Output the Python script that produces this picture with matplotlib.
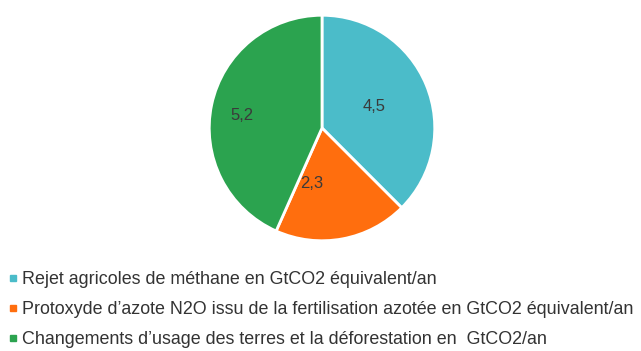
import matplotlib
matplotlib.use("Agg")
import matplotlib.pyplot as plt
from matplotlib.lines import Line2D
import numpy as np

plt.rcParams['font.family'] = ['Liberation Sans', 'DejaVu Sans']

# emissions agricoles (GtCO2/an)
categories = [
    "Rejet agricoles de méthane en GtCO2 équivalent/an",
    "Protoxyde d\u2019azote N2O issu de la fertilisation azotée en GtCO2 équivalent/an",
    "Changements d\u2019usage des terres et la déforestation en  GtCO2/an",
]
values = [4.5, 2.3, 5.2]
value_labels = ["4,5", "2,3", "5,2"]
colors = ["#4bbcc9", "#ff6e0e", "#2ba34f"]

# placement des etiquettes dans les parts (distance relative, decalage en degres)
label_dist = [0.5, 0.5, 0.72]
label_shift = [0, -21, 3]

W, H = 641, 351
fig = plt.figure(figsize=(W / 100, H / 100), dpi=100)

cx, cy, r = 322, 128, 115
ax = fig.add_axes([(cx - r) / W, (H - cy - r) / H, 2 * r / W, 2 * r / H])
wedges, _ = ax.pie(values, colors=colors, startangle=90, counterclock=False,
                   wedgeprops=dict(edgecolor="white", linewidth=2))
ax.set_xlim(-1.02, 1.02)
ax.set_ylim(-1.02, 1.02)
ax.set_aspect("equal")
ax.axis("off")

for w, lab, d, s in zip(wedges, value_labels, label_dist, label_shift):
    ang = np.deg2rad((w.theta1 + w.theta2) / 2 + s)
    ax.text(d * np.cos(ang), d * np.sin(ang), lab, ha="center", va="center",
            fontsize=12, color="#3a3a3a")

handles = [Line2D([], [], marker="s", linestyle="none", markersize=4,
                  markerfacecolor=c, markeredgecolor=c) for c in colors]
fig.legend(handles, categories, loc="upper left", bbox_to_anchor=(1 / W, 1 - 264 / H),
           frameon=False, fontsize=12.9, handlelength=0.5, handletextpad=0.25,
           labelspacing=0.72, borderaxespad=0, labelcolor="#333333")

fig.savefig("out.png", dpi=100, facecolor="white")
